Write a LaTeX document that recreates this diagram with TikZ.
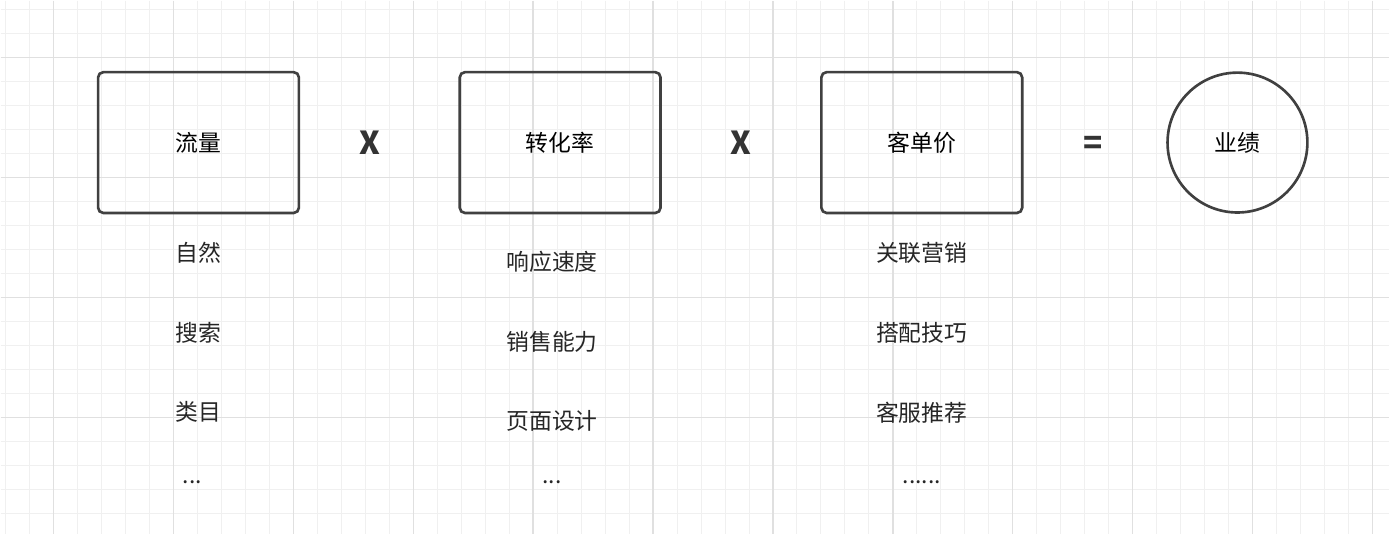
\documentclass[tikz,border=0pt]{standalone}
\usepackage{fontspec}
\setmainfont{Noto Sans CJK SC}
\begin{document}
\begin{tikzpicture}[x=0.02cm,y=-0.02cm,
  box/.style={draw=black!75,line width=1.5pt,rounded corners=3pt,minimum width=201*0.02cm,minimum height=141*0.02cm,font=\fontsize{13}{15}\selectfont},
  circ/.style={draw=black!75,line width=1.5pt,circle,minimum size=140*0.02cm,font=\fontsize{13}{15}\selectfont},
  op/.style={font=\fontsize{18}{20}\selectfont\bfseries,text=black!80},
  lbl/.style={font=\fontsize{13}{15}\selectfont,text=black!85}]
\fill[white] (0,0) rectangle (1390,534);
\foreach \x in {5,29,...,1390} \draw[black!6,line width=0.5pt] (\x,0) -- (\x,534);
\foreach \y in {9,33,...,534} \draw[black!6,line width=0.5pt] (0,\y) -- (1390,\y);
\foreach \x in {53,173,...,1390} \draw[black!12,line width=0.8pt] (\x,0) -- (\x,534);
\foreach \y in {57,177,...,534} \draw[black!12,line width=0.8pt] (0,\y) -- (1390,\y);
\useasboundingbox (0,0) rectangle (1390,534);
\node[box] (a) at (198,142) {流量};
\node[box] (b) at (560,142) {转化率};
\node[box] (c) at (922,142) {客单价};
\node[circ] (d) at (1238,142) {业绩};
\node[op] (x1) at (370,142) {X};
\node[op] (x2) at (741,142) {X};
\node[op] (eq) at (1094,145) {=};
\node[lbl] (a1) at (198,252) {自然};
\node[lbl] (a2) at (198,332) {搜索};
\node[lbl] (a3) at (198,412) {类目};
\node[lbl] (a4) at (192,482) {...};
\node[lbl] (b1) at (552,261) {响应速度};
\node[lbl] (b2) at (552,341) {销售能力};
\node[lbl] (b3) at (552,421) {页面设计};
\node[lbl] (b4) at (552,482) {...};
\node[lbl] (c1) at (922,252) {关联营销};
\node[lbl] (c2) at (922,332) {搭配技巧};
\node[lbl] (c3) at (922,412) {客服推荐};
\node[lbl] (c4) at (922,482) {......};
\end{tikzpicture}
\end{document}
